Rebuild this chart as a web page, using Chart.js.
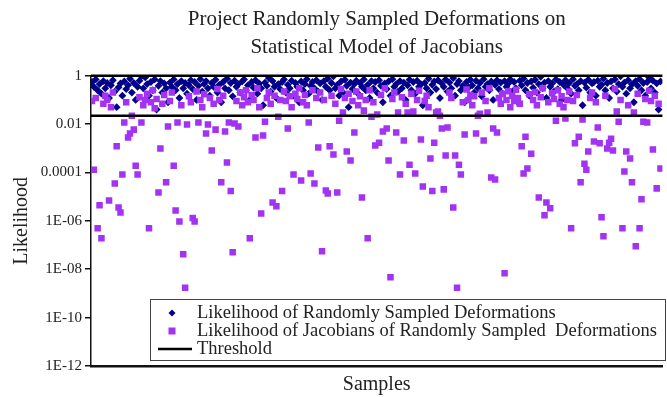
<!DOCTYPE html>
<html>
<head>
<meta charset="utf-8">
<title>Project Randomly Sampled Deformations</title>
<script src="https://cdn.jsdelivr.net/npm/chart.js@4.4.0/dist/chart.umd.min.js"></script>
<style>
  html, body { margin: 0; padding: 0; background: #fff; }
</style>
</head>
<body>
<canvas id="chart" width="667" height="397"></canvas>

<script>
// likelihood of each randomly sampled deformation (blue diamonds), sample 0..299
var deformLik = [
  0.55, 0.35, 0.7, 0.25, 0.45, 0.18, 0.6, 0.3, 0.5, 0.12, 0.4, 0.65, 0.22, 0.05, 0.33, 0.48, 0.15, 0.58, 0.28, 0.4,
  0.75, 0.2, 0.5, 0.1, 0.35, 0.62, 0.95, 0.3, 0.85, 0.45, 0.15, 0.55, 0.25, 0.7, 0.04, 0.38, 0.6, 0.2, 0.48, 0.3,
  0.08, 0.52, 0.35, 0.7, 0.25, 0.45, 0.12, 0.6, 0.3, 0.5, 0.18, 0.4, 0.65, 0.28, 0.55, 0.1, 0.38, 0.72, 0.22, 0.45,
  0.6, 0.3, 0.15, 0.5, 0.35, 0.68, 0.2, 0.42, 0.08, 0.55, 0.3, 0.75, 0.25, 0.5, 0.14, 0.62, 0.35, 0.45, 0.2, 0.58,
  0.7, 0.25, 0.4, 0.1, 0.55, 0.32, 0.65, 0.18, 0.48, 0.3, 0.06, 0.52, 0.38, 0.8, 0.22, 0.6, 0.35, 0.12, 0.45, 0.28,
  0.55, 0.7, 0.2, 0.42, 0.3, 0.62, 0.15, 0.5, 0.35, 0.08, 0.58, 0.25, 0.45, 0.72, 0.18, 0.38, 0.55, 0.3, 0.65, 0.22,
  0.48, 0.1, 0.6, 0.35, 0.75, 0.25, 0.5, 0.95, 0.3, 0.42, 0.15, 0.58, 0.2, 0.68, 0.38, 0.05, 0.52, 0.28, 0.45, 0.62,
  0.18, 0.5, 0.35, 0.7, 0.25, 0.42, 0.12, 0.6, 0.3, 0.55, 0.2, 0.65, 0.38, 0.08, 0.48, 0.28, 0.58, 0.15, 0.72, 0.35,
  0.45, 0.22, 0.6, 0.3, 0.52, 0.1, 0.4, 0.68, 0.25, 0.55, 0.18, 0.62, 0.35, 0.45, 0.06, 0.5, 0.3, 0.75, 0.2, 0.42,
  0.58, 0.28, 0.65, 0.12, 0.48, 0.35, 0.7, 0.22, 0.52, 0.3, 0.8, 0.15, 0.45, 0.6, 0.25, 0.38, 0.08, 0.55, 0.32, 0.68,
  0.4, 0.2, 0.62, 0.3, 0.5, 0.14, 0.72, 0.35, 0.45, 0.25, 0.58, 0.1, 0.42, 0.65, 0.28, 0.52, 0.18, 0.6, 0.35, 0.48,
  0.7, 0.22, 0.55, 0.3, 0.08, 0.62, 0.4, 0.75, 0.25, 0.5, 0.15, 0.58, 0.32, 0.68, 0.2, 0.45, 0.9, 0.3, 0.52, 0.12,
  0.6, 0.35, 0.48, 0.22, 0.7, 0.28, 0.55, 0.1, 0.42, 0.65, 0.3, 0.5, 0.18, 0.72, 0.38, 0.45, 0.25, 0.6, 0.06, 0.52,
  0.32, 0.68, 0.2, 0.48, 0.55, 0.15, 0.62, 0.35, 0.42, 0.75, 0.25, 0.5, 0.12, 0.58, 0.3, 0.7, 0.22, 0.45, 0.95, 0.35,
  0.52, 0.18, 0.65, 0.3, 0.44, 0.08, 0.6, 0.38, 0.72, 0.25, 0.5, 0.15, 0.55, 0.85, 0.3, 0.62, 0.2, 0.48, 0.04, 0.58
];

// likelihood of the jacobians of the same samples (purple squares)
var jacobianLik = [
  0.09, 1.3e-4, 0.12, 4.9e-7, 4.4e-6, 1.9e-7, 0.07, 0.15, 0.1, 7e-6, 0.05, 0.2, 3.5e-5, 1.2e-3, 3.6e-6, 2.2e-6, 8.3e-5, 0.0115, 0.08, 2.8e-3,
  4.1e-3, 0.022, 5.9e-3, 1.9e-4, 8.3e-5, 0.13, 0.0115, 0.06, 0.1, 0.18, 4.9e-7, 0.08, 0.25, 0.045, 0.11, 1.5e-5, 9.8e-4, 0.07, 0.16, 3.9e-5,
  7.9e-3, 0.09, 0.2, 1.9e-4, 2.7e-6, 0.0115, 9.5e-7, 0.06, 4.2e-8, 1.7e-9, 9.5e-3, 0.14, 0.08, 1.3e-6, 9.5e-7, 0.22, 0.0115, 0.1, 0.05, 0.17,
  4.1e-3, 9.5e-3, 0.12, 8.1e-4, 0.07, 5.9e-3, 0.28, 0.1, 3.9e-5, 0.15, 4.9e-3, 2.6e-4, 0.0115, 1.7e-5, 5e-8, 0.0105, 0.09, 7.9e-3, 0.2, 0.06,
  0.13, 0.25, 0.08, 1.9e-7, 0.16, 0.1, 2.8e-3, 0.3, 0.05, 2e-6, 3.4e-3, 0.0126, 0.12, 0.2, 0.07, 5.8e-6, 0.15, 4e-6, 0.02, 0.1,
  1.7e-5, 0.22, 0.09, 6.5e-3, 0.14, 0.05, 8.3e-5, 0.18, 0.11, 0.3, 4.7e-5, 0.08, 0.16, 0.06, 0.0115, 9.1e-5, 0.25, 3.5e-5, 0.12, 1.07e-3,
  0.2, 5.5e-8, 0.1, 1.8e-5, 1.35e-5, 1.2e-3, 0.15, 5.5e-4, 0.07, 1.5e-5, 0.0138, 0.28, 0.03, 0.12, 7.4e-4, 0.18, 3.1e-4, 0.09, 4.5e-3, 0.22,
  0.06, 0.14, 9.3e-6, 0.036, 0.1, 1.9e-7, 0.25, 0.02, 0.08, 1.3e-3, 0.025, 1.7e-3, 0.16, 4.9e-3, 0.3, 6.5e-3, 3.1e-4, 4.7e-9, 0.11, 0.2,
  4.5e-3, 0.03, 8.3e-5, 0.13, 2.1e-3, 0.07, 0.03, 2.1e-4, 0.18, 0.033, 9.1e-5, 0.1, 0.24, 2.3e-3, 2.6e-5, 0.09, 0.15, 0.05, 3.8e-4, 1.7e-5,
  1.7e-3, 0.03, 0.033, 0.022, 6.5e-3, 2e-5, 5e-4, 7.2e-3, 0.2, 0.12, 3.6e-6, 5e-4, 1.7e-9, 2.1e-4, 8.3e-5, 0.08, 3.7e-3, 0.27, 0.1, 0.16,
  0.06, 0.14, 4.1e-3, 0.022, 0.027, 0.2, 2.1e-3, 0.09, 0.03, 0.3, 6.2e-5, 6.5e-3, 5.1e-5, 4.5e-3, 0.12, 0.07, 0.18, 6.9e-9, 0.1, 0.23,
  0.05, 0.15, 0.09, 0.26, 0.12, 0.07, 1.2e-3, 9.1e-5, 3e-3, 1.45e-4, 0.17, 6e-4, 0.1, 0.21, 0.06, 9.3e-6, 0.13, 0.3, 1.7e-6, 5.8e-6,
  0.08, 3.3e-6, 0.19, 0.11, 0.0138, 0.25, 0.07, 0.14, 0.05, 0.017, 0.1, 0.22, 4.9e-7, 0.09, 1.6e-3, 0.16, 3e-3, 3.9e-5, 0.0155, 2.3e-4,
  1.3e-4, 7.4e-4, 0.12, 0.2, 1.9e-3, 0.08, 7.2e-3, 1.6e-3, 1.4e-6, 2.3e-7, 0.15, 9.8e-4, 1.7e-3, 2.5e-3, 8.1e-4, 0.28, 0.033, 0.0126, 0.1, 4.9e-7,
  1.1e-4, 7.4e-4, 0.06, 3.8e-4, 3.9e-5, 0.03, 8.9e-8, 0.18, 4.9e-7, 7.8e-6, 0.0126, 0.11, 0.0115, 0.24, 0.09, 8.9e-4, 0.15, 2.2e-5, 0.07, 1.45e-4
];

var thresholdLevels = [1, 0.022];
var yTickValues = [1, 1e-2, 1e-4, 1e-6, 1e-8, 1e-10, 1e-12];
var yTickLabels = ['1', '0.01', '0.0001', '1E-06', '1E-08', '1E-10', '1E-12'];
var seriesNames = [
  'Likelihood of Randomly Sampled Deformations',
  'Likelihood of Jacobians of Randomly Sampled  Deformations',
  'Threshold'
];

var serif = "'Liberation Serif', 'Times New Roman', serif";
var blue = '#00008b';
var purple = '#a233f2';

function toPoints(arr) {
  return arr.map(function (v, i) { return { x: i, y: v }; });
}

var datasets = [
  {
    label: seriesNames[2], type: 'line', order: 0, clip: false,
    data: [{ x: -0.5, y: thresholdLevels[0] }, { x: 300, y: thresholdLevels[0] }],
    borderColor: '#000', borderWidth: 2.5, pointRadius: 0, showLine: true
  },
  {
    label: seriesNames[2], type: 'line', order: 0, clip: false,
    data: [{ x: -0.5, y: thresholdLevels[1] }, { x: 300, y: thresholdLevels[1] }],
    borderColor: '#000', borderWidth: 2.5, pointRadius: 0, showLine: true
  },
  {
    label: seriesNames[1], order: 1,
    data: toPoints(jacobianLik),
    pointStyle: 'rect', pointRadius: 4.6, borderWidth: 0,
    backgroundColor: purple, borderColor: purple
  },
  {
    label: seriesNames[0], order: 2,
    data: toPoints(deformLik),
    pointStyle: 'rectRot', pointRadius: 3.9, borderWidth: 0,
    backgroundColor: blue, borderColor: blue
  }
];

// boxed legend drawn inside the plot, like the original
var boxLegend = {
  id: 'boxLegend',
  afterDraw: function (chart) {
    var ctx = chart.ctx;
    var x0 = 150, y0 = 299, x1 = 666, y1 = 361;
    ctx.save();
    ctx.fillStyle = '#fff';
    ctx.fillRect(x0, y0, x1 - x0, y1 - y0);
    ctx.strokeStyle = '#444';
    ctx.lineWidth = 1;
    ctx.strokeRect(x0 + 0.5, y0 + 0.5, x1 - x0 - 1, y1 - y0 - 1);

    var rows = [313, 331, 349];
    var entries = [datasets[3], datasets[2], datasets[0]];
    ctx.font = '18.5px ' + serif;
    ctx.textBaseline = 'middle';
    entries.forEach(function (ds, i) {
      var y = rows[i];
      ctx.fillStyle = ds.backgroundColor || ds.borderColor;
      if (ds.pointStyle === 'rectRot') {
        ctx.beginPath();
        ctx.moveTo(172, y - 3.5); ctx.lineTo(175.5, y); ctx.lineTo(172, y + 3.5); ctx.lineTo(168.5, y);
        ctx.closePath(); ctx.fill();
      } else if (ds.pointStyle === 'rect') {
        ctx.fillRect(168.5, y - 3.5, 7, 7);
      } else {
        ctx.strokeStyle = ds.borderColor;
        ctx.lineWidth = 2.5;
        ctx.beginPath(); ctx.moveTo(158, y); ctx.lineTo(192, y); ctx.stroke();
      }
      ctx.fillStyle = '#222';
      ctx.fillText(ds.label, 197, y);
    });
    ctx.restore();
  }
};

new Chart(document.getElementById('chart'), {
  type: 'scatter',
  data: { datasets: datasets },
  plugins: [boxLegend],
  options: {
    responsive: false,
    animation: false,
    layout: { padding: 0 },
    plugins: {
      legend: { display: false },
      tooltip: { enabled: false },
      title: {
        display: true,
        fullSize: false,
        text: ['Project Randomly Sampled Deformations on', 'Statistical Model of Jacobians'],
        color: '#222',
        font: { family: serif, size: 21, weight: 'normal', lineHeight: 1.35 },
        padding: { top: 5, bottom: 14 }
      }
    },
    scales: {
      x: {
        type: 'linear', min: -0.5, max: 300,
        ticks: { display: false },
        grid: { display: false },
        border: { display: true, color: '#111', width: 2.5 },
        title: {
          display: true, text: 'Samples', color: '#222',
          font: { family: serif, size: 20 }, padding: { top: 0, bottom: 0 }
        },
        afterFit: function (s) { s.height = 31; }
      },
      y: {
        type: 'logarithmic', min: 1e-12, max: 1,
        afterBuildTicks: function (s) {
          s.ticks = yTickValues.map(function (v) { return { value: v }; });
        },
        ticks: {
          color: '#222', padding: 3,
          font: { family: serif, size: 15 },
          callback: function (v) {
            var i = yTickValues.indexOf(v);
            return i >= 0 ? yTickLabels[i] : '';
          }
        },
        grid: { display: true, drawOnChartArea: false, drawTicks: true, tickLength: 6, color: '#111', lineWidth: 1.5 },
        border: { display: true, color: '#111', width: 1.5 },
        title: {
          display: true, text: 'Likelihood', color: '#222',
          font: { family: serif, size: 20 }, padding: { top: 10, bottom: 0 }
        },
        afterFit: function (s) { s.width = 91; }
      }
    }
  }
});
</script>
</body>
</html>
